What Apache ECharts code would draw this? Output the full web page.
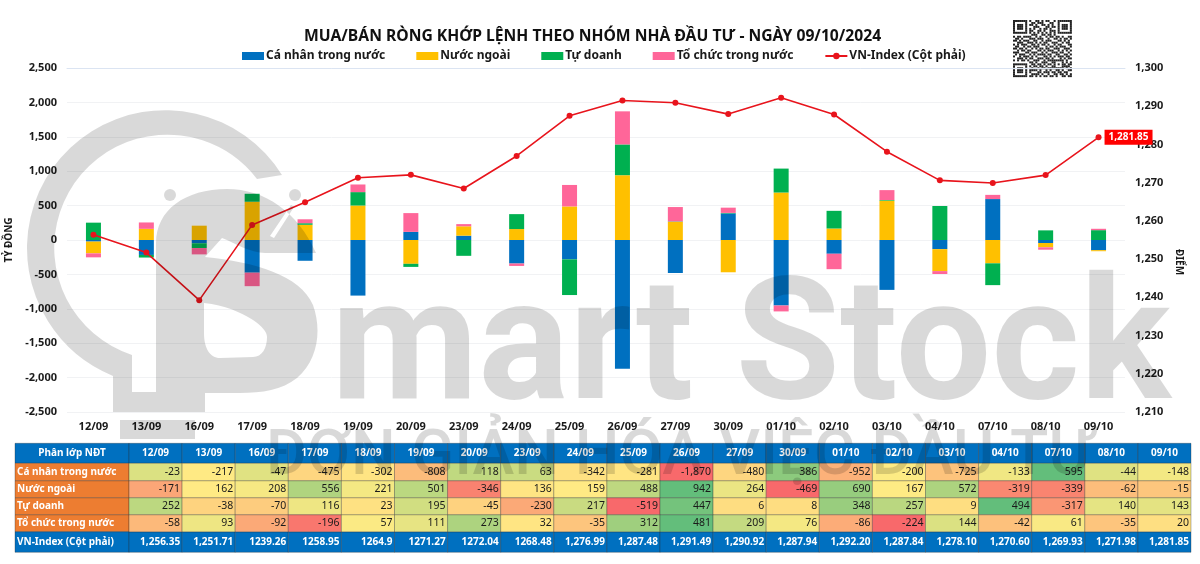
<!DOCTYPE html>
<html>
<head>
<meta charset="utf-8">
<title>Mua/bán ròng khớp lệnh</title>
<script src="https://cdn.jsdelivr.net/npm/echarts@6/dist/echarts.min.js"></script>
<style>
  html, body { margin: 0; padding: 0; background: #fff; }
  #chart { width: 1200px; height: 564px; }
</style>
</head>
<body>
<div id="chart"></div>
<script>
const dates = ['12/09', '13/09', '16/09', '17/09', '18/09', '19/09', '20/09', '23/09', '24/09', '25/09', '26/09', '27/09', '30/09', '01/10', '02/10', '03/10', '04/10', '07/10', '08/10', '09/10']
const caNhan = [-23, -217, -47, -475, -302, -808, 118, 63, -342, -281, -1870, -480, 386, -952, -200, -725, -133, 595, -44, -148]
const nuocNgoai = [-171, 162, 208, 556, 221, 501, -346, 136, 159, 488, 942, 264, -469, 690, 167, 572, -319, -339, -62, -15]
const tuDoanh = [252, -38, -70, 116, 23, 195, -45, -230, 217, -519, 447, 6, 8, 348, 257, 9, 494, -317, 140, 143]
const toChuc = [-58, 93, -92, -196, 57, 111, 273, 32, -35, 312, 481, 209, 76, -86, -224, 144, -42, 61, -35, 20]
const vnIndex = [1256.35, 1251.71, 1239.26, 1258.95, 1264.9, 1271.27, 1272.04, 1268.48, 1276.99, 1287.48, 1291.49, 1290.92, 1287.94, 1292.20, 1287.84, 1278.10, 1270.60, 1269.93, 1271.98, 1281.85]
// the table row prints these as the source did, commas missing on some
const vnText = ['1,256.35', '1,251.71', '1239.26', '1258.95', '1264.9', '1271.27', '1272.04', '1268.48', '1,276.99', '1,287.48', '1,291.49', '1,290.92', '1,287.94', '1,292.20', '1,287.84', '1,278.10', '1,270.60', '1,269.93', '1,271.98', '1,281.85']

const groupNames = ['Cá nhân trong nước', 'Nước ngoài', 'Tự doanh', 'Tổ chức trong nước']
const groupValues = [caNhan, nuocNgoai, tuDoanh, toChuc]
const groupColors = ['#0070c0', '#ffc000', '#00b050', '#ff6699']
const indexName = 'VN-Index (Cột phải)'
const headName = 'Phân lớp NĐT'
const titleText = 'MUA/BÁN RÒNG KHỚP LỆNH THEO NHÓM NHÀ ĐẦU TƯ - NGÀY 09/10/2024'

// table row edges, in px from the table top
const rowEdges = [0, 20, 37.5, 54.5, 71.5, 88.5, 109]

const font = '"Noto Sans", "Open Sans", sans-serif'
const ink = '#1a1a1a'

function mix (a, b, t) {
  return 'rgb(' + a.map(function (v, i) { return Math.round(v + (b[i] - v) * t) }).join(',') + ')'
}

// excel style 3 colour scale, each row on its own min / median / max
function rowColors (values) {
  const red = [248, 105, 107]
  const yellow = [255, 235, 132]
  const green = [99, 190, 123]
  const s = values.slice().sort(function (a, b) { return a - b })
  const mid = (s[9] + s[10]) / 2
  return values.map(function (v) {
    if (v <= mid) return mix(red, yellow, (v - s[0]) / (mid - s[0]))
    return mix(yellow, green, (v - mid) / (s[19] - mid))
  })
}

const labelCells = [headName].concat(groupNames, [indexName]).map(function (t, i) {
  const edge = i === 0 || i === 5
  return { col: 0, row: i, text: t, fill: edge ? '#0070c0' : '#ed7d31', color: '#fff', bold: true, align: i === 0 ? 'center' : 'left' }
})

const valueCells = []
dates.forEach(function (d, c) {
  valueCells.push({ col: c, row: 0, text: d, fill: '#0070c0', color: '#fff', bold: true, align: 'center' })
  valueCells.push({ col: c, row: 5, text: vnText[c], fill: '#0070c0', color: '#fff', bold: true, align: 'right' })
})
groupValues.forEach(function (values, r) {
  const colors = rowColors(values)
  values.forEach(function (v, c) {
    valueCells.push({ col: c, row: r + 1, text: v.toLocaleString('en-US'), fill: colors[c], color: ink, bold: false, align: 'right' })
  })
})

function cellSeries (cells, axisIndex) {
  return {
    type: 'custom',
    xAxisIndex: axisIndex,
    yAxisIndex: axisIndex,
    coordinateSystem: 'cartesian2d',
    clip: false,
    silent: true,
    data: cells.map(function (c) { return [c.col, c.row] }),
    renderItem: function (params, api) {
      const c = cells[params.dataIndex]
      const w = api.size([1, 0])[0]
      const a = api.coord([c.col, rowEdges[c.row]])
      const b = api.coord([c.col, rowEdges[c.row + 1]])
      const x = a[0] - w / 2
      let tx = x + w / 2
      if (c.align === 'right') tx = x + w - 2
      if (c.align === 'left') tx = x + 2
      return {
        type: 'group',
        children: [{
          type: 'rect',
          shape: { x: x, y: a[1], width: w, height: b[1] - a[1] },
          style: { fill: c.fill, stroke: 'rgba(40,40,40,0.45)', lineWidth: 0.7 }
        }, {
          type: 'text',
          style: {
            x: tx,
            y: (a[1] + b[1]) / 2,
            text: c.text,
            fill: c.color,
            align: c.align,
            verticalAlign: 'middle',
            font: c.bold ? 'bold 10px ' + font : '10.5px ' + font
          }
        }]
      }
    }
  }
}

const barSeries = groupNames.map(function (name, i) {
  return {
    name: name,
    type: 'bar',
    stack: 'nhom',
    barWidth: 15,
    itemStyle: { color: groupColors[i] },
    data: groupValues[i]
  }
})

const lineSeries = {
  name: indexName,
  type: 'line',
  yAxisIndex: 1,
  z: 6,
  symbol: 'circle',
  symbolSize: 6,
  itemStyle: { color: '#e8141c' },
  lineStyle: { color: '#e8141c', width: 1.6 },
  data: vnIndex.map(function (v, i) {
    if (i < vnIndex.length - 1) return v
    return {
      value: v,
      label: {
        show: true,
        position: 'right',
        distance: 3,
        formatter: '1,281.85',
        color: '#fff',
        fontFamily: font,
        fontWeight: 'bold',
        fontSize: 10,
        backgroundColor: '#ff0000',
        padding: [3, 4, 2, 4]
      }
    }
  })
}

// ---- overlay: logo, wordmark, qr ----
const logoPath = 'M282,175 A138,138 0 1 0 113,376 L113,412 L205,412 L205,393 L240,393 ' +
  'C262,393 282,390 297,378 C318,360 322,330 313,305 C300,275 255,262 205,257 L222,238 ' +
  'C235,243 250,253 265,253 L316,253 C298,212 265,189 227,189 C185,189 156,210 156,243 ' +
  'L156,392 L132,392 L132,355 A113,113 0 1 1 257,179 Z ' +
  'M204,303 C225,305 240,312 253,320 C262,326 267,332 267,337 C267,348 262,357 253,357 L220,358 C210,358 204,348 204,333 Z ' +
  'M195,236 L177,204 L174,206 L192,238 Z ' +
  'M270,236 L291,205 L294,207 L274,238 Z'
echarts.graphic.registerShape('ssLogo', echarts.graphic.extendPath(logoPath, {}))

const qrRows = [
  '11111110100110101100101111111',
  '10000010011011100011001000001',
  '10111010110100110101001011101',
  '10111010001110001101101011101',
  '10111010101001011010001011101',
  '10000010110011010011101000001',
  '11111110101010101010101111111',
  '00000000011100110110100000000',
  '10110111100101001011011010011',
  '01101000111011100100110101101',
  '11010111001100101110001101010',
  '00111001110101011001110010110',
  '10101110011010110100101100011',
  '01100101101110001011010111001',
  '11011010010101101100111001110',
  '00101101100011010111001010101',
  '11100011011100101001110110010',
  '01011100101011110110011001101',
  '10010111010100011010101110110',
  '00111010110011101101000101011',
  '10101101001110010111111110100',
  '00000000110100111001100010101',
  '11111110011011010110101011011',
  '10000010101101101001100011110',
  '10111010010010110111111110101',
  '10111010111101001010011010011',
  '10111010100011011101101101100',
  '10000010011110100100110110101',
  '11111110110101011011010011011'
]

const qrLeft = 1013
const qrTop = 20
const qrCell = 2.03
const qrMods = [{ type: 'rect', shape: { x: qrLeft - 2, y: qrTop - 2, width: 63, height: 61 }, style: { fill: '#fff' }, silent: true }]
qrRows.forEach(function (row, r) {
  row.split('').forEach(function (v, c) {
    if (v === '1') {
      qrMods.push({
        type: 'rect',
        shape: { x: qrLeft + c * qrCell, y: qrTop + r * 1.97, width: qrCell, height: 1.97 },
        style: { fill: '#222' },
        silent: true
      })
    }
  })
})

const shade = 'rgba(0,0,0,0.15)'
const graphic = [
  { type: 'ssLogo', z: 100, silent: true, style: { fill: shade } },
  { type: 'circle', z: 100, silent: true, shape: { cx: 170, cy: 195, r: 6 }, style: { fill: shade } },
  { type: 'circle', z: 100, silent: true, shape: { cx: 295, cy: 195, r: 6 }, style: { fill: shade } },
  { type: 'rect', z: 100, silent: true, shape: { x: 120, y: 420, width: 75, height: 19 }, style: { fill: shade } },
  { type: 'text', z: 100, silent: true, x: 331, y: 440, style: { text: 'mart Stock', fill: shade, font: 'bold 170px Roboto', verticalAlign: 'bottom' } },
  { type: 'text', z: 100, silent: true, x: 265, y: 490, style: { text: 'ĐƠN GIẢN HÓA VIỆC ĐẦU TƯ', fill: shade, font: '500 63px Roboto', verticalAlign: 'bottom' } },
  { type: 'group', z: 101, silent: true, children: qrMods }
]

const gridColors = []
for (let i = 0; i < 11; i++) gridColors.push('#f1f2f4')

const option = {
  animation: false,
  backgroundColor: '#fff',
  textStyle: { fontFamily: font },
  title: {
    text: titleText,
    left: 299,
    top: 24,
    textStyle: { fontFamily: font, fontSize: 15.7, fontWeight: 'bold', color: '#111' }
  },
  legend: {
    left: 237,
    top: 45,
    itemWidth: 22,
    itemHeight: 8,
    itemGap: 31,
    selectedMode: false,
    data: groupNames.map(function (n) { return { name: n, icon: 'rect' } }).concat([{ name: indexName }]),
    textStyle: { fontFamily: font, fontSize: 12, fontWeight: 'bold', color: ink, padding: [0, 0, 0, -3] }
  },
  grid: [
    // outerBoundsMode off, or v6 pulls the plot in to fit the axis names
    { left: 67, right: 75, top: 68, height: 344, outerBoundsMode: 'none' },
    { left: 15, width: 114, top: 443.3, height: 109, outerBoundsMode: 'none' },
    { left: 129, width: 1062, top: 443.3, height: 109, outerBoundsMode: 'none' }
  ],
  xAxis: [
    {
      type: 'category',
      data: dates,
      axisLine: { show: false },
      axisTick: { show: false },
      axisLabel: { color: ink, fontFamily: font, fontSize: 11, fontWeight: 'bold', margin: 9, interval: 0 }
    },
    {
      // zero line, drawn across the bars
      type: 'category',
      data: dates,
      z: 4,
      axisLine: { show: true, onZero: true, lineStyle: { color: '#dbe4f2', width: 1 } },
      axisTick: { show: false },
      axisLabel: { show: false }
    },
    { type: 'category', gridIndex: 1, data: [headName], show: false },
    { type: 'category', gridIndex: 2, data: dates, show: false }
  ],
  yAxis: [
    {
      type: 'value',
      min: -2500,
      max: 2500,
      interval: 500,
      name: 'TỶ ĐỒNG',
      nameLocation: 'middle',
      nameRotate: 90,
      nameGap: 38,
      nameTextStyle: { color: ink, fontFamily: font, fontSize: 10, fontWeight: 'bold' },
      axisLine: { show: false },
      axisTick: { show: false },
      axisLabel: { color: ink, fontFamily: font, fontSize: 11, fontWeight: 'bold', margin: 10, padding: [2, 0, 0, 0] },
      splitLine: { show: true, lineStyle: { color: gridColors } }
    },
    {
      type: 'value',
      min: 1210,
      max: 1300,
      interval: 10,
      position: 'right',
      name: 'ĐIỂM',
      nameLocation: 'middle',
      nameRotate: -90,
      nameGap: 43,
      nameTextStyle: { color: ink, fontFamily: font, fontSize: 10, fontWeight: 'bold', padding: [0, 0, 0, 44] },
      axisLine: { show: false },
      axisTick: { show: false },
      axisLabel: { color: ink, fontFamily: font, fontSize: 11, fontWeight: 'bold', margin: 10, padding: [2, 0, 0, 0] },
      splitLine: { show: false }
    },
    { type: 'value', gridIndex: 1, min: 0, max: 109, inverse: true, show: false },
    { type: 'value', gridIndex: 2, min: 0, max: 109, inverse: true, show: false }
  ],
  series: barSeries.concat([lineSeries, cellSeries(labelCells, 2), cellSeries(valueCells, 3)]),
  graphic: graphic
}

const chart = echarts.init(document.getElementById('chart'))
chart.setOption(option)
</script>
</body>
</html>
